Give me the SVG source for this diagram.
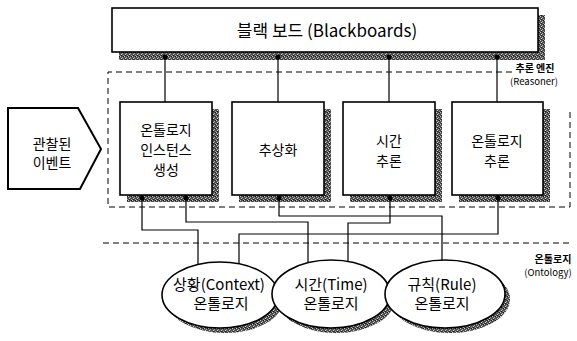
<svg xmlns="http://www.w3.org/2000/svg" width="577" height="341" viewBox="0 0 577 341">
<style>
.box{fill:#fff;stroke:#000;stroke-width:1.6}
.sh{fill:url(#stip)}
.dash{fill:none;stroke:#000;stroke-width:1;stroke-dasharray:6 4}
.ln{fill:none;stroke:#000;stroke-width:1.2}
.dot{fill:#000}
text{font-family:"Noto Sans CJK KR","Noto Sans",sans-serif;fill:#000;text-anchor:middle}
.t{font-size:14px}
.te{font-size:15px}
.tb{font-size:17px}
.lb{font-size:10px;font-weight:bold}
.ls{font-size:9.5px}
</style>
<defs>
<pattern id="stip" width="4" height="4" patternUnits="userSpaceOnUse">
<rect width="4" height="4" fill="#4e4e4e"/>
<rect x="0" y="0" width="1" height="1" fill="#c8c8c8"/>
<rect x="2" y="1" width="1" height="1" fill="#b0b0b0"/>
<rect x="1" y="2" width="1" height="1" fill="#d8d8d8"/>
<rect x="3" y="3" width="1" height="1" fill="#a0a0a0"/>
<rect x="3" y="0" width="1" height="1" fill="#1a1a1a"/>
<rect x="1" y="3" width="1" height="1" fill="#1a1a1a"/>
</pattern>
</defs>

<g id="regions">
<path class="dash" d="M512,72 H108 V207 H570 V112"/>
<text class="lb" x="535" y="72">추론 엔진</text>
<text class="ls" x="534" y="85">(Reasoner)</text>
<path class="dash" d="M103,243 H570"/>
<text class="lb" x="553" y="263">온톨로지</text>
<text class="ls" x="548" y="276">(Ontology)</text>
</g>

<g id="blackboard">
<rect class="sh" x="119" y="15" width="426" height="45"/>
<rect class="box" x="112" y="8" width="426" height="44"/>
<text class="tb" x="327" y="37">블랙 보드 (Blackboards)</text>
</g>

<g id="event">
<polygon points="8,108 78,108 101,149 80,189 8,189" fill="#fff" stroke="#000" stroke-width="2"/>
<text class="t" x="52" y="149">관찰된</text>
<text class="t" x="52" y="168">이벤트</text>
</g>

<g id="instance">
<rect class="sh" x="127" y="109" width="92" height="93"/>
<rect class="box" x="120" y="102" width="92" height="93"/>
<text class="t" x="166" y="135">온톨로지</text>
<text class="t" x="166" y="155">인스턴스</text>
<text class="t" x="166" y="175">생성</text>
</g>

<g id="abstraction">
<rect class="sh" x="239" y="109" width="92" height="93"/>
<rect class="box" x="232" y="102" width="92" height="93"/>
<text class="t" x="278" y="155">추상화</text>
</g>

<g id="time-reasoning">
<rect class="sh" x="350" y="109" width="92" height="93"/>
<rect class="box" x="343" y="102" width="92" height="93"/>
<text class="t" x="389" y="146">시간</text>
<text class="t" x="389" y="166">추론</text>
</g>

<g id="ontology-reasoning">
<rect class="sh" x="459" y="109" width="91" height="93"/>
<rect class="box" x="452" y="102" width="91" height="93"/>
<text class="t" x="497" y="146">온톨로지</text>
<text class="t" x="497" y="166">추론</text>
</g>

<g id="context-ontology">
<ellipse class="sh" cx="225" cy="300" rx="58" ry="33"/>
<ellipse class="box" cx="220" cy="295" rx="58" ry="33"/>
</g>
<g id="time-ontology">
<ellipse class="sh" cx="336" cy="299" rx="59" ry="34"/>
<ellipse class="box" cx="331" cy="294" rx="59" ry="34"/>
</g>
<g id="rule-ontology">
<ellipse class="sh" cx="450" cy="299" rx="60" ry="34"/>
<ellipse class="box" cx="445" cy="294" rx="60" ry="34"/>
<text class="te" x="442" y="290">규칙(Rule)</text>
<text class="te" x="442" y="309">온톨로지</text>
</g>
<g id="ellipse-labels">
<text class="te" x="219" y="290">상황(Context)</text>
<text class="te" x="221" y="309">온톨로지</text>
<text class="te" x="331" y="290">시간(Time)</text>
<text class="te" x="331" y="309">온톨로지</text>
</g>

<g id="connectors">
<path class="ln" d="M165,57 V102 M278,57 V102 M389,57 V102 M497,57 V102"/>
<circle class="dot" cx="165" cy="57" r="2.5"/>
<circle class="dot" cx="278" cy="57" r="2.5"/>
<circle class="dot" cx="389" cy="57" r="2.5"/>
<circle class="dot" cx="497" cy="57" r="2.5"/>
<path class="ln" d="M142,198 V230 H198 V264.5"/>
<path class="ln" d="M186,198 V222 H308 V262.7"/>
<path class="ln" d="M279,198 V216 H442 V260"/>
<path class="ln" d="M390,198 V223 H348 V261.4"/>
<path class="ln" d="M498,198 V234 H239 V263.8"/>
<circle class="dot" cx="142" cy="198" r="2.5"/>
<circle class="dot" cx="186" cy="198" r="2.5"/>
<circle class="dot" cx="279" cy="198" r="2.5"/>
<circle class="dot" cx="390" cy="198" r="2.5"/>
<circle class="dot" cx="498" cy="198" r="2.5"/>
</g>
</svg>
